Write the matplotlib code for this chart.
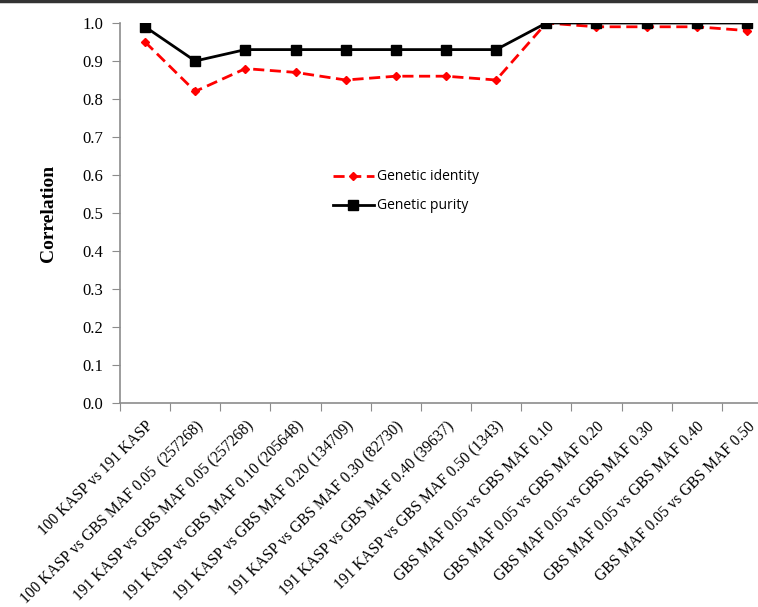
import numpy as np
import matplotlib.pyplot as plt
from matplotlib.lines import Line2D
from matplotlib.transforms import ScaledTranslation

categories = [
    "100 KASP vs 191 KASP",
    "100 KASP vs GBS MAF 0.05  (257268)",
    "191 KASP vs GBS MAF 0.05 (257268)",
    "191 KASP vs GBS MAF 0.10 (205648)",
    "191 KASP vs GBS MAF 0.20 (134709)",
    "191 KASP vs GBS MAF 0.30 (82730)",
    "191 KASP vs GBS MAF 0.40 (39637)",
    "191 KASP vs GBS MAF 0.50 (1343)",
    "GBS MAF 0.05 vs GBS MAF 0.10",
    "GBS MAF 0.05 vs GBS MAF 0.20",
    "GBS MAF 0.05 vs GBS MAF 0.30",
    "GBS MAF 0.05 vs GBS MAF 0.40",
    "GBS MAF 0.05 vs GBS MAF 0.50",
]
genetic_identity = [0.95, 0.82, 0.88, 0.87, 0.85, 0.86, 0.86, 0.85, 1.00, 0.99, 0.99, 0.99, 0.98]
genetic_purity = [0.99, 0.90, 0.93, 0.93, 0.93, 0.93, 0.93, 0.93, 1.00, 1.00, 1.00, 1.00, 1.00]
y_ticks = [0.0, 0.1, 0.2, 0.3, 0.4, 0.5, 0.6, 0.7, 0.8, 0.9, 1.0]

plt.rcParams['font.family'] = ['Liberation Serif', 'DejaVu Serif']
axis_gray = '#8c8c8c'

fig = plt.figure(figsize=(7.58, 6.07), dpi=100)
ax = fig.add_axes([120 / 758, 1 - 403 / 607, 652 / 758, 380 / 607])

x = np.arange(len(categories))
ax.plot(x, genetic_identity, color='#ff0000', linestyle=(0, (4, 2)), linewidth=2,
        marker='D', markersize=4.5, label='Genetic identity')
ax.plot(x, genetic_purity, color='black', linewidth=2,
        marker='s', markersize=7.5, label='Genetic purity')

ax.set_xlim(-0.5, len(categories) - 0.5)
ax.set_ylim(0, 1.0)
ax.set_yticks(y_ticks)
ax.set_yticklabels([f"{t:.1f}" for t in y_ticks], fontsize=12)

# Excel style: ticks on category boundaries, labels centred under points
ax.set_xticks(np.arange(len(categories) + 1) - 0.5)
ax.set_xticklabels([])
ax.set_xticks(x, minor=True)
ax.set_xticklabels(categories, minor=True, rotation=45, ha='right', va='top',
                   rotation_mode='anchor', fontsize=11.2)
shift = ScaledTranslation(-5 / 100, 0, fig.dpi_scale_trans)
for lbl in ax.get_xticklabels(minor=True):
    lbl.set_transform(lbl.get_transform() + shift)
ax.tick_params(axis='x', which='minor', length=0, pad=11)
ax.tick_params(axis='x', which='major', length=6, color=axis_gray, direction='out')
ax.tick_params(axis='y', length=6, color=axis_gray, direction='out', pad=6)

for side in ['top', 'right']:
    ax.spines[side].set_visible(False)
for side in ['left', 'bottom']:
    ax.spines[side].set_color(axis_gray)
    ax.spines[side].set_linewidth(1.2)

ax.set_ylabel('Correlation', fontsize=14, fontweight='bold', labelpad=18)

ax.legend(loc='upper left', bbox_to_anchor=(200 / 652, 1 - 134 / 380),
          frameon=False, prop={'family': 'Open Sans', 'size': 10},
          handlelength=3, labelspacing=1.0, handletextpad=0.2)

# thin frame line along the top edge of the image
fig.add_artist(Line2D([0, 1], [0.998, 0.998], color='#333333', linewidth=2.5,
                      transform=fig.transFigure))

fig.savefig('out.png', dpi=100)
